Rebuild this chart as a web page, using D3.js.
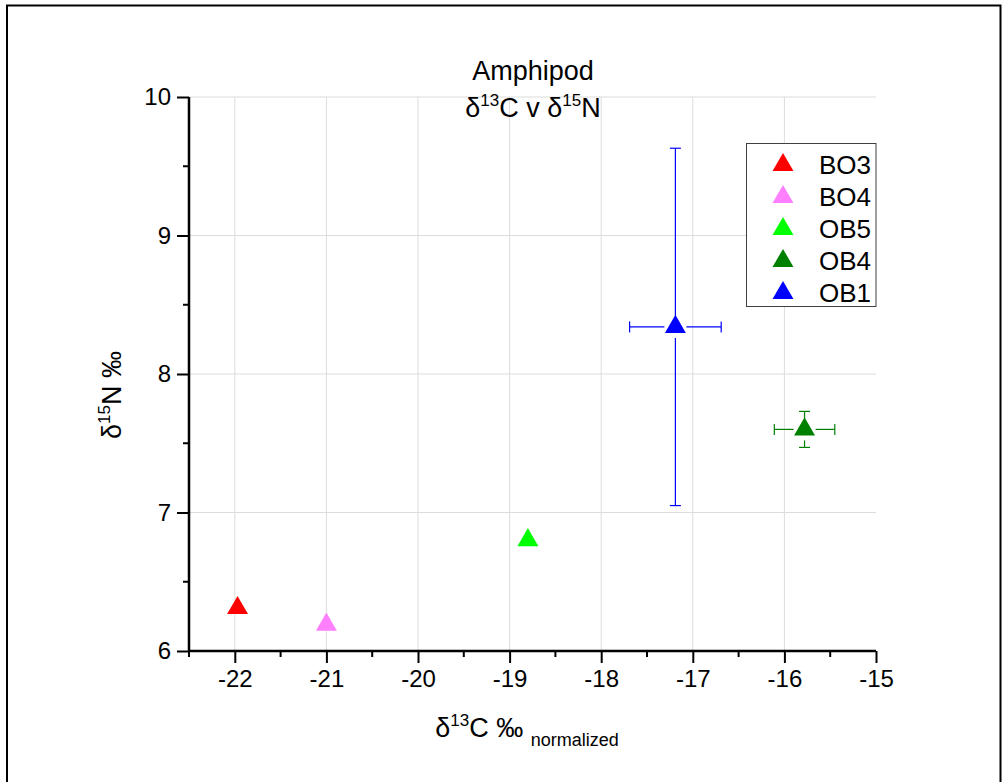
<!DOCTYPE html>
<html><head><meta charset="utf-8">
<script src="https://cdn.jsdelivr.net/npm/d3@7"></script>
<style>body{margin:0;background:#fff}svg{display:block;font-family:Arial,"Liberation Sans",sans-serif}</style>
</head><body>
<svg id="c" width="1008" height="782"></svg>
<script>
const series = ["BO3","BO4","OB5","OB4","OB1"];
const colors = ["#ff0000","#ff80ff","#00ff00","#008000","#0000ff"];
const xValues = [-21.97,-21.0,-18.8,-15.78,-17.19];
const yValues = [6.31,6.19,6.80,7.60,8.34];
const xErrors = [0,0,0,0.33,0.5];
const yErrors = [0,0,0,0.13,1.29];
const xTicks = [-22,-21,-20,-19,-18,-17,-16,-15];
const yTicks = [6,7,8,9,10];

const svg = d3.select("#c");
const L=189,R=876,T=97,B=651;
const x = d3.scaleLinear().domain([-22.5,-15]).range([L,R]);
const y = d3.scaleLinear().domain([6,10]).range([B,T]);

// frame
svg.append("rect").attr("x",7).attr("y",5.5).attr("width",993.5).attr("height",800)
  .attr("fill","none").attr("stroke","#000").attr("stroke-width",2);

// grid
const g = svg.append("g");
g.selectAll(".gx").data(xTicks.filter(d=>d>-22.5&&d<-15)).enter().append("line")
  .attr("x1",d=>x(d)).attr("x2",d=>x(d)).attr("y1",T).attr("y2",B)
  .attr("stroke","#dcdcdc").attr("stroke-width",1);
g.selectAll(".gy").data(yTicks.filter(d=>d>6)).enter().append("line")
  .attr("x1",L).attr("x2",R).attr("y1",d=>y(d)).attr("y2",d=>y(d))
  .attr("stroke","#dcdcdc").attr("stroke-width",1);

// axes
const xAxis = d3.axisBottom(x).tickValues(xTicks).tickSize(12).tickPadding(7).tickFormat(d3.format("d"));
const xg = svg.append("g").attr("transform",`translate(0,${B})`).call(xAxis);
const yAxis = d3.axisLeft(y).tickValues(yTicks).tickSize(12).tickPadding(6).tickFormat(d3.format("d"));
const yg = svg.append("g").attr("transform",`translate(${L},0)`).call(yAxis);
[xg,yg].forEach(a=>{
  a.select(".domain").attr("stroke","#000").attr("stroke-width",2.5);
  a.selectAll(".tick line").attr("stroke","#000").attr("stroke-width",2);
  a.selectAll(".tick text").attr("font-size",24).attr("fill","#000").attr("font-family","Arial,'Liberation Sans',sans-serif");
});
xg.selectAll(".tick text").text(d=>String(d).replace("−","-"));
xg.select(".domain").attr("d",`M${L},0H${R}`);
yg.select(".domain").attr("d",`M0,${T}V${B}`);
// minor ticks
const xMinor = d3.range(-22.5,-14.9,1);
svg.append("g").selectAll("line").data(xMinor).enter().append("line")
  .attr("x1",d=>x(d)).attr("x2",d=>x(d)).attr("y1",B).attr("y2",B+6)
  .attr("stroke","#000").attr("stroke-width",2);
const yMinor = [6.5,7.5,8.5,9.5];
svg.append("g").selectAll("line").data(yMinor).enter().append("line")
  .attr("x1",L-6).attr("x2",L).attr("y1",d=>y(d)).attr("y2",d=>y(d))
  .attr("stroke","#000").attr("stroke-width",2);

// data
const pts = series.map((s,i)=>({s,c:colors[i],x:xValues[i],y:yValues[i],ex:xErrors[i],ey:yErrors[i]}));
const gap = 11, cap = 5.5;
const eg = svg.append("g");
pts.filter(p=>p.ex>0||p.ey>0).forEach(p=>{
  const cx=x(p.x), cy=y(p.y);
  const segs=[];
  if(p.ey>0){
    const yt=y(p.y+p.ey), yb=y(p.y-p.ey);
    segs.push([cx,yt,cx,cy-gap],[cx,cy+gap,cx,yb],[cx-cap,yt,cx+cap,yt],[cx-cap,yb,cx+cap,yb]);
  }
  if(p.ex>0){
    const xl=x(p.x-p.ex), xr=x(p.x+p.ex);
    segs.push([xl,cy,cx-gap,cy],[cx+gap,cy,xr,cy],[xl,cy-cap,xl,cy+cap],[xr,cy-cap,xr,cy+cap]);
  }
  segs.forEach(s=>eg.append("line").attr("x1",s[0]).attr("y1",s[1]).attr("x2",s[2]).attr("y2",s[3])
    .attr("stroke",p.c).attr("stroke-width",1.2));
});
const tri = d3.symbol().type(d3.symbolTriangle).size(190);
svg.append("g").selectAll("path").data(pts).enter().append("path")
  .attr("d",tri).attr("transform",d=>`translate(${x(d.x)},${y(d.y)})`).attr("fill",d=>d.c);

// legend
const lg = svg.append("g");
lg.append("rect").attr("x",746.5).attr("y",143.5).attr("width",129.5).attr("height",163)
  .attr("fill","#fff").attr("stroke","#404040").attr("stroke-width",1);
series.forEach((s,i)=>{
  const yy = 165 + i*32;
  lg.append("path").attr("d",tri).attr("transform",`translate(783,${yy})`).attr("fill",colors[i]);
  lg.append("text").attr("x",819).attr("y",yy+9).attr("font-size",26).text(s);
});

// title
const t = svg.append("text").attr("text-anchor","middle").attr("font-size",27);
t.append("tspan").attr("x",533).attr("y",80).text("Amphipod");
const t2 = svg.append("text").attr("text-anchor","middle").attr("x",533).attr("y",117).attr("font-size",27);
t2.append("tspan").text("δ");
t2.append("tspan").attr("font-size",17).attr("dy",-11).text("13");
t2.append("tspan").attr("dy",11).text("C v δ");
t2.append("tspan").attr("font-size",17).attr("dy",-11).text("15");
t2.append("tspan").attr("dy",11).text("N");

// x label
const xl = svg.append("text").attr("text-anchor","middle").attr("x",527).attr("y",737).attr("font-size",27);
xl.append("tspan").text("δ");
xl.append("tspan").attr("font-size",17).attr("dy",-11).text("13");
xl.append("tspan").attr("dy",11).text("C ‰ ");
xl.append("tspan").attr("font-size",18).attr("dy",9).text("normalized");

// y label
const yl = svg.append("text").attr("text-anchor","middle").attr("transform","translate(121,395) rotate(-90)").attr("font-size",27);
yl.append("tspan").text("δ");
yl.append("tspan").attr("font-size",17).attr("dy",-11).text("15");
yl.append("tspan").attr("dy",11).text("N ‰");
</script>
</body></html>
